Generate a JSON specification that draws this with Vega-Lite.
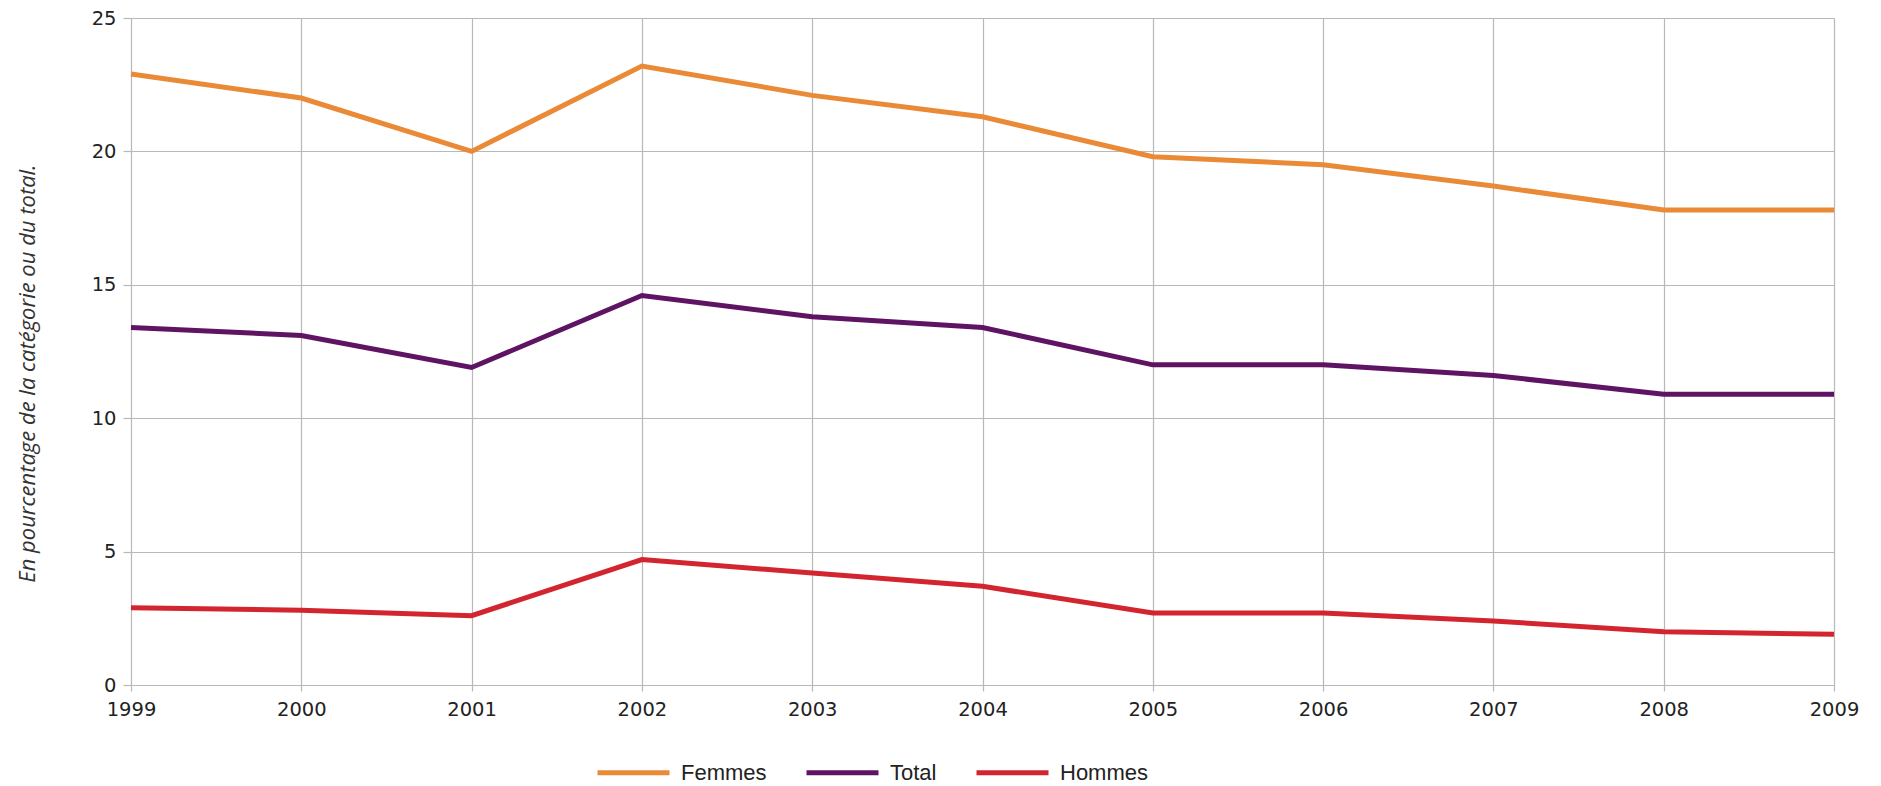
{
  "$schema": "https://vega.github.io/schema/vega-lite/v6.json",
  "width": 1703,
  "height": 667,
  "autosize": {"type": "none"},
  "padding": {"left": 131, "top": 18, "right": 47, "bottom": 101},
  "background": "white",
  "config": {
    "view": {"stroke": null},
    "axis": {
      "gridColor": "#b8b8b8",
      "gridWidth": 1.2,
      "tickColor": "#b8b8b8",
      "tickWidth": 1.2,
      "domain": false,
      "labelFont": "DejaVu Sans",
      "labelFontSize": 19.5,
      "labelColor": "#222222"
    }
  },
  "data": {
    "values": [
      {"annee": "1999", "serie": "Femmes", "valeur": 22.9},
      {"annee": "2000", "serie": "Femmes", "valeur": 22.0},
      {"annee": "2001", "serie": "Femmes", "valeur": 20.0},
      {"annee": "2002", "serie": "Femmes", "valeur": 23.2},
      {"annee": "2003", "serie": "Femmes", "valeur": 22.1},
      {"annee": "2004", "serie": "Femmes", "valeur": 21.3},
      {"annee": "2005", "serie": "Femmes", "valeur": 19.8},
      {"annee": "2006", "serie": "Femmes", "valeur": 19.5},
      {"annee": "2007", "serie": "Femmes", "valeur": 18.7},
      {"annee": "2008", "serie": "Femmes", "valeur": 17.8},
      {"annee": "2009", "serie": "Femmes", "valeur": 17.8},
      {"annee": "1999", "serie": "Total", "valeur": 13.4},
      {"annee": "2000", "serie": "Total", "valeur": 13.1},
      {"annee": "2001", "serie": "Total", "valeur": 11.9},
      {"annee": "2002", "serie": "Total", "valeur": 14.6},
      {"annee": "2003", "serie": "Total", "valeur": 13.8},
      {"annee": "2004", "serie": "Total", "valeur": 13.4},
      {"annee": "2005", "serie": "Total", "valeur": 12.0},
      {"annee": "2006", "serie": "Total", "valeur": 12.0},
      {"annee": "2007", "serie": "Total", "valeur": 11.6},
      {"annee": "2008", "serie": "Total", "valeur": 10.9},
      {"annee": "2009", "serie": "Total", "valeur": 10.9},
      {"annee": "1999", "serie": "Hommes", "valeur": 2.9},
      {"annee": "2000", "serie": "Hommes", "valeur": 2.8},
      {"annee": "2001", "serie": "Hommes", "valeur": 2.6},
      {"annee": "2002", "serie": "Hommes", "valeur": 4.7},
      {"annee": "2003", "serie": "Hommes", "valeur": 4.2},
      {"annee": "2004", "serie": "Hommes", "valeur": 3.7},
      {"annee": "2005", "serie": "Hommes", "valeur": 2.7},
      {"annee": "2006", "serie": "Hommes", "valeur": 2.7},
      {"annee": "2007", "serie": "Hommes", "valeur": 2.4},
      {"annee": "2008", "serie": "Hommes", "valeur": 2.0},
      {"annee": "2009", "serie": "Hommes", "valeur": 1.9}
    ]
  },
  "mark": {"type": "line", "strokeWidth": 5, "strokeJoin": "miter"},
  "encoding": {
    "x": {
      "field": "annee",
      "type": "ordinal",
      "scale": {"type": "point", "padding": 0},
      "axis": {
        "title": null,
        "labelAngle": 0,
        "grid": true,
        "tickSize": 6,
        "labelPadding": 9,
        "labelBaseline": "top"
      }
    },
    "y": {
      "field": "valeur",
      "type": "quantitative",
      "scale": {"domain": [0, 25], "nice": false},
      "axis": {
        "title": "En pourcentage de la catégorie ou du total.",
        "values": [0, 5, 10, 15, 20, 25],
        "tickSize": 8,
        "labelPadding": 7,
        "titleFont": "Open Sans",
        "titleFontStyle": "italic",
        "titleFontWeight": "normal",
        "titleFontSize": 22,
        "titleColor": "#333333",
        "titleX": -104,
        "titleY": 355,
        "titleAngle": -90,
        "titleAlign": "center",
        "titleBaseline": "middle"
      }
    },
    "color": {
      "field": "serie",
      "type": "nominal",
      "sort": ["Femmes", "Total", "Hommes"],
      "scale": {
        "domain": ["Femmes", "Total", "Hommes"],
        "range": ["#EA8A37", "#5E1463", "#D3252F"]
      },
      "legend": {
        "title": null,
        "orient": "none",
        "direction": "horizontal",
        "legendX": 464,
        "legendY": 716,
        "padding": 0,
        "symbolType": "stroke",
        "symbolSize": 5184,
        "symbolStrokeWidth": 5,
        "labelFont": "Liberation Sans",
        "labelFontSize": 22,
        "labelColor": "#222222",
        "labelOffset": 9,
        "columnPadding": 29
      }
    }
  }
}
